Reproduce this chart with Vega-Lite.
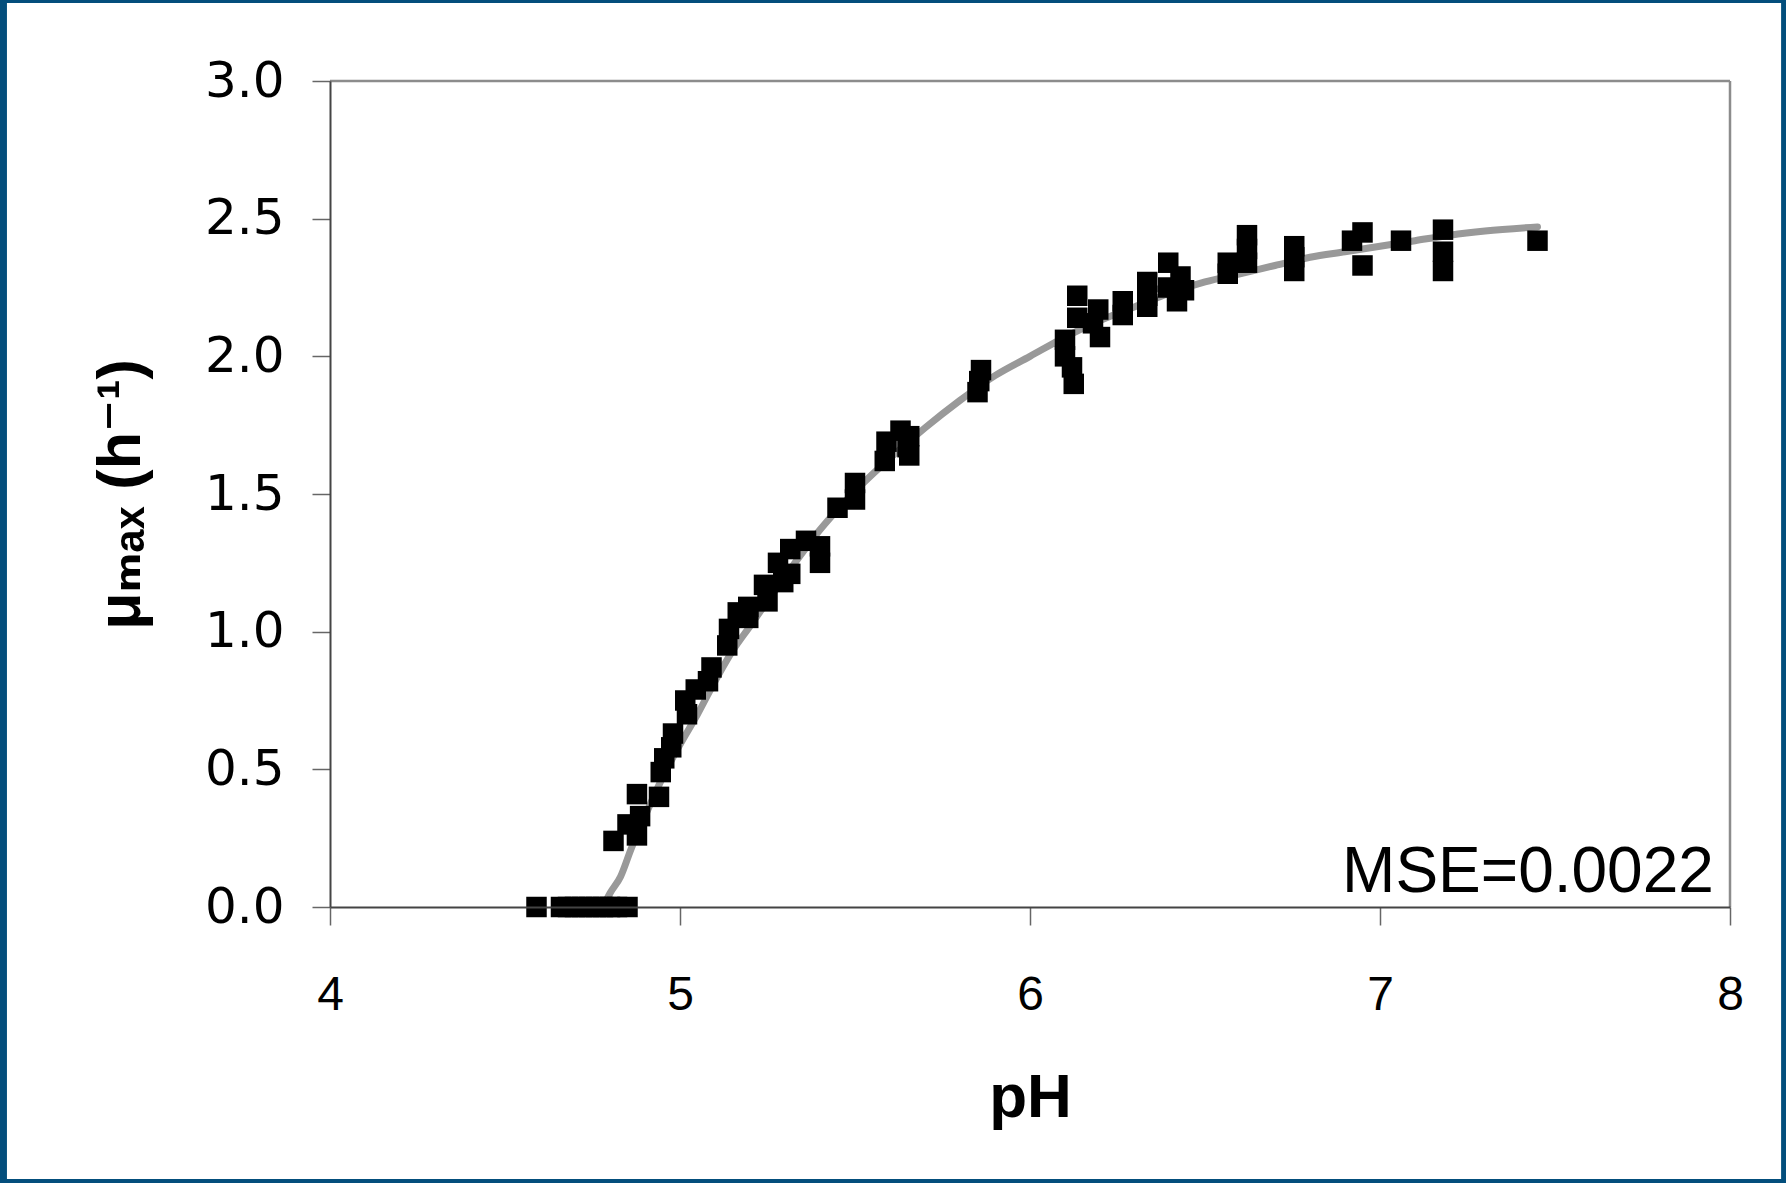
{
  "$schema": "https://vega.github.io/schema/vega-lite/v6.json",
  "width": 1400,
  "height": 826,
  "autosize": {"type": "none"},
  "padding": {"left": 330, "top": 81, "right": 56, "bottom": 276},
  "background": "#034E7C",
  "config": {"view": {"stroke": null}},
  "datasets": {
    "obs": [
      {"pH": 4.59, "mu": 0.0}, {"pH": 4.66, "mu": 0.0}, {"pH": 4.68, "mu": 0.0}, {"pH": 4.70, "mu": 0.0},
      {"pH": 4.72, "mu": 0.0}, {"pH": 4.74, "mu": 0.0}, {"pH": 4.76, "mu": 0.0}, {"pH": 4.78, "mu": 0.0},
      {"pH": 4.80, "mu": 0.0}, {"pH": 4.82, "mu": 0.0}, {"pH": 4.85, "mu": 0.0},
      {"pH": 4.81, "mu": 0.24}, {"pH": 4.85, "mu": 0.30}, {"pH": 4.877, "mu": 0.26}, {"pH": 4.877, "mu": 0.41},
      {"pH": 4.886, "mu": 0.33}, {"pH": 4.94, "mu": 0.40}, {"pH": 4.945, "mu": 0.49}, {"pH": 4.955, "mu": 0.54},
      {"pH": 4.975, "mu": 0.58}, {"pH": 4.98, "mu": 0.63}, {"pH": 5.015, "mu": 0.75}, {"pH": 5.02, "mu": 0.70},
      {"pH": 5.045, "mu": 0.79}, {"pH": 5.08, "mu": 0.82}, {"pH": 5.09, "mu": 0.87}, {"pH": 5.135, "mu": 0.95},
      {"pH": 5.14, "mu": 1.01}, {"pH": 5.165, "mu": 1.07}, {"pH": 5.195, "mu": 1.09}, {"pH": 5.195, "mu": 1.05},
      {"pH": 5.24, "mu": 1.17}, {"pH": 5.25, "mu": 1.11}, {"pH": 5.28, "mu": 1.25}, {"pH": 5.295, "mu": 1.18},
      {"pH": 5.315, "mu": 1.30}, {"pH": 5.315, "mu": 1.21}, {"pH": 5.36, "mu": 1.33}, {"pH": 5.40, "mu": 1.31},
      {"pH": 5.40, "mu": 1.25}, {"pH": 5.45, "mu": 1.45}, {"pH": 5.50, "mu": 1.54}, {"pH": 5.50, "mu": 1.48},
      {"pH": 5.585, "mu": 1.62}, {"pH": 5.59, "mu": 1.69}, {"pH": 5.63, "mu": 1.73}, {"pH": 5.655, "mu": 1.71},
      {"pH": 5.655, "mu": 1.64}, {"pH": 5.65, "mu": 1.67}, {"pH": 5.85, "mu": 1.87}, {"pH": 5.855, "mu": 1.91},
      {"pH": 5.86, "mu": 1.95}, {"pH": 6.10, "mu": 2.06}, {"pH": 6.10, "mu": 2.00}, {"pH": 6.12, "mu": 1.96},
      {"pH": 6.125, "mu": 1.90}, {"pH": 6.135, "mu": 2.22}, {"pH": 6.135, "mu": 2.14}, {"pH": 6.18, "mu": 2.12},
      {"pH": 6.195, "mu": 2.17}, {"pH": 6.20, "mu": 2.07}, {"pH": 6.265, "mu": 2.20}, {"pH": 6.265, "mu": 2.15},
      {"pH": 6.335, "mu": 2.27}, {"pH": 6.335, "mu": 2.22}, {"pH": 6.335, "mu": 2.18}, {"pH": 6.395, "mu": 2.34},
      {"pH": 6.395, "mu": 2.25}, {"pH": 6.43, "mu": 2.29}, {"pH": 6.42, "mu": 2.20}, {"pH": 6.44, "mu": 2.24},
      {"pH": 6.565, "mu": 2.34}, {"pH": 6.565, "mu": 2.30}, {"pH": 6.62, "mu": 2.44}, {"pH": 6.62, "mu": 2.39},
      {"pH": 6.62, "mu": 2.34}, {"pH": 6.755, "mu": 2.40}, {"pH": 6.755, "mu": 2.36}, {"pH": 6.755, "mu": 2.31},
      {"pH": 6.92, "mu": 2.42}, {"pH": 6.95, "mu": 2.45}, {"pH": 6.95, "mu": 2.33}, {"pH": 7.06, "mu": 2.42},
      {"pH": 7.18, "mu": 2.46}, {"pH": 7.18, "mu": 2.38}, {"pH": 7.18, "mu": 2.31}, {"pH": 7.45, "mu": 2.42}
    ],
    "fit": [
      {"pH": 4.78, "mu": 0.0}, {"pH": 4.80, "mu": 0.05}, {"pH": 4.83, "mu": 0.11}, {"pH": 4.86, "mu": 0.21},
      {"pH": 4.90, "mu": 0.33}, {"pH": 4.95, "mu": 0.47}, {"pH": 5.00, "mu": 0.59}, {"pH": 5.05, "mu": 0.70},
      {"pH": 5.10, "mu": 0.82}, {"pH": 5.15, "mu": 0.93}, {"pH": 5.20, "mu": 1.02}, {"pH": 5.30, "mu": 1.20},
      {"pH": 5.40, "mu": 1.37}, {"pH": 5.50, "mu": 1.51}, {"pH": 5.60, "mu": 1.63}, {"pH": 5.70, "mu": 1.74},
      {"pH": 5.80, "mu": 1.84}, {"pH": 5.90, "mu": 1.93}, {"pH": 6.00, "mu": 2.00}, {"pH": 6.10, "mu": 2.07},
      {"pH": 6.20, "mu": 2.13}, {"pH": 6.30, "mu": 2.18}, {"pH": 6.40, "mu": 2.23}, {"pH": 6.50, "mu": 2.27},
      {"pH": 6.60, "mu": 2.30}, {"pH": 6.70, "mu": 2.33}, {"pH": 6.80, "mu": 2.36}, {"pH": 6.90, "mu": 2.38},
      {"pH": 7.00, "mu": 2.40}, {"pH": 7.10, "mu": 2.42}, {"pH": 7.20, "mu": 2.44}, {"pH": 7.30, "mu": 2.455},
      {"pH": 7.45, "mu": 2.47}
    ]
  },
  "layer": [
    {
      "data": {"values": [{}]},
      "mark": {"type": "rect", "clip": false, "fill": "white", "stroke": null},
      "encoding": {
        "x": {"datum": 3.077, "type": "quantitative", "scale": {"domain": [4, 8], "nice": false, "zero": false},
          "axis": {
            "values": [4, 5, 6, 7, 8], "format": "d", "grid": false, "zindex": 1,
            "labelFont": "Liberation Sans", "labelFontSize": 48, "labelColor": "black", "labelPadding": 46,
            "labelFlush": false, "labelOverlap": false,
            "tickSize": 18, "tickColor": "#666666", "tickWidth": 1.5,
            "domainColor": "#444444", "domainWidth": 2,
            "title": "pH", "titleFont": "Liberation Sans", "titleFontSize": 62, "titleFontWeight": "bold",
            "titleColor": "black", "titlePadding": 48
          }
        },
        "x2": {"datum": 8.146},
        "y": {"datum": 3.283, "type": "quantitative", "scale": {"domain": [0, 3], "nice": false, "zero": false},
          "axis": {
            "values": [0, 0.5, 1, 1.5, 2, 2.5, 3], "format": ".1f", "grid": false, "zindex": 1,
            "labelFont": "DejaVu Sans", "labelFontSize": 50, "labelColor": "black", "labelPadding": 28,
            "labelOverlap": false, "labelFlush": false,
            "tickSize": 18, "tickColor": "#666666", "tickWidth": 1.5,
            "domainColor": "#444444", "domainWidth": 2,
            "title": "μₘₐₓ (h⁻¹)", "titleFont": "Liberation Sans, DejaVu Sans", "titleFontSize": 61,
            "titleFontWeight": "bold", "titleColor": "black", "titlePadding": 52
          }
        },
        "y2": {"datum": -0.988}
      }
    },
    {
      "data": {"values": [{}]},
      "mark": {"type": "rule", "color": "#8c8c8c", "strokeWidth": 2.5},
      "encoding": {
        "x": {"datum": 4, "type": "quantitative"},
        "x2": {"datum": 8},
        "y": {"datum": 3, "type": "quantitative"}
      }
    },
    {
      "data": {"values": [{}]},
      "mark": {"type": "rule", "color": "#8c8c8c", "strokeWidth": 2.5},
      "encoding": {
        "x": {"datum": 8, "type": "quantitative"},
        "y": {"datum": 0, "type": "quantitative"},
        "y2": {"datum": 3}
      }
    },
    {
      "data": {"name": "fit"},
      "mark": {"type": "line", "color": "#999999", "strokeWidth": 7, "interpolate": "monotone", "strokeCap": "round"},
      "encoding": {
        "x": {"field": "pH", "type": "quantitative"},
        "y": {"field": "mu", "type": "quantitative"}
      }
    },
    {
      "data": {"name": "obs"},
      "mark": {"type": "point", "shape": "square", "filled": true, "color": "black", "opacity": 1, "size": 420},
      "encoding": {
        "x": {"field": "pH", "type": "quantitative"},
        "y": {"field": "mu", "type": "quantitative"}
      }
    },
    {
      "data": {"values": [{"label": "MSE=0.0022"}]},
      "mark": {"type": "text", "align": "right", "baseline": "alphabetic", "font": "Liberation Sans", "fontSize": 64, "color": "black"},
      "encoding": {
        "x": {"datum": 7.954, "type": "quantitative"},
        "y": {"datum": 0.054, "type": "quantitative"},
        "text": {"field": "label"}
      }
    }
  ]
}
